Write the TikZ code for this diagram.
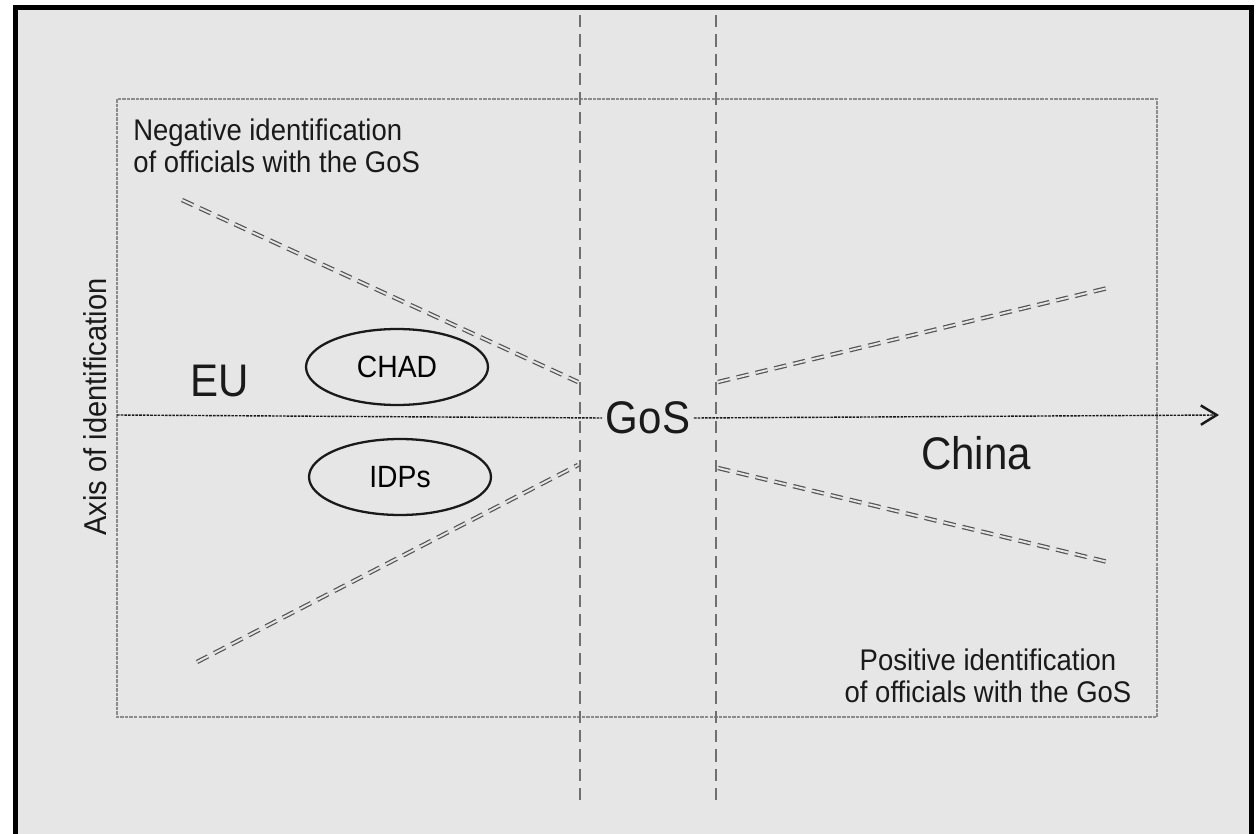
\documentclass[tikz,border=0pt]{standalone}
\usepackage{fontspec}
\setmainfont{Liberation Sans}
\newfontfamily\narrowsans[FakeStretch=0.92]{Liberation Sans}
\usetikzlibrary{arrows.meta,shapes.geometric}
\definecolor{paper}{HTML}{E6E6E6}
\definecolor{ink}{HTML}{1A1A1A}
\definecolor{muted}{HTML}{8C8C8C}
\tikzset{
  frameline/.style={draw=black, line width=2.8pt},
  boxline/.style={draw=muted, line width=0.6pt, dash pattern=on 2pt off 0.6pt},
  splitline/.style={draw=muted!80!black, line width=0.7pt, dash pattern=on 7pt off 4pt},
  axisline/.style={draw=ink, line width=0.8pt, dash pattern=on 1.5pt off 0.6pt},
  trend/.style={draw=muted!60!black, double=paper, double distance=1.1pt, line width=0.7pt, dash pattern=on 7pt off 4pt},
  group/.style={ellipse, draw=ink, line width=1.3pt, minimum width=3.64cm, minimum height=1.52cm, font=\narrowsans\fontsize{17.5}{19}\selectfont},
  biglab/.style={text=ink, font=\narrowsans\fontsize{26}{30}\selectfont},
  lab/.style={text=ink, font=\narrowsans\fontsize{17}{18.5}\selectfont, align=center},
}

\begin{document}
\begin{tikzpicture}[x=0.02cm, y=-0.02cm]
  \useasboundingbox (0,0) rectangle (1257,834);
  \fill[white] (0,0) rectangle (1257,834);
  \clip (0,0) rectangle (1257,834);
  \draw[frameline, fill=paper] (15.5,7.5) rectangle (1251.5,870);
  % inner frame
  \draw[boxline] (117,99) rectangle (1157,717);
  % the two borders of the GoS band
  \coordinate (ltop) at (580,15);
  \coordinate (lbot) at (580,805);
  \coordinate (rtop) at (716,15);
  \coordinate (rbot) at (716,805);
  \draw[splitline] (ltop) -- (lbot);
  \draw[splitline] (rtop) -- (rbot);
  % labels
  \node[biglab] (eu) at (220,381) {EU};
  \node[biglab, fill=paper, inner sep=2pt] (gos) at (648,418) {GoS};
  \node[biglab] (china) at (976,453) {China};
  \node[group] (chad) at (397,367) {CHAD};
  \node[group] (idps) at (400,477) {IDPs};
  \node[lab, align=left, anchor=west, inner sep=0pt] (neg) at (133,146) {Negative identification\\of officials with the GoS};
  \node[lab] (pos) at (988,676) {Positive identification\\of officials with the GoS};
  \node[lab, font=\narrowsans\fontsize{18}{20}\selectfont, rotate=90] (axis) at (95,407) {Axis of identification};
  % horizontal axis
  \coordinate (astart) at (117,415);
  \coordinate (aend) at (1219,415);
  \draw[axisline] (astart) -- (gos.west);
  \draw[axisline, -{Straight Barb[length=9pt,width=11pt,line width=1.4pt]}] (gos.east) -- (aend);
  % fan lines
  \coordinate (nw) at (182,200);
  \coordinate (nwend) at (578,382);
  \coordinate (sw) at (197,662);
  \coordinate (swend) at (578,465);
  \coordinate (ne) at (718,382);
  \coordinate (neend) at (1112,287);
  \coordinate (se) at (718,468);
  \coordinate (seend) at (1112,563);
  \draw[trend] (nw) -- (nwend);
  \draw[trend] (sw) -- (swend);
  \draw[trend] (ne) -- (neend);
  \draw[trend] (se) -- (seend);
\end{tikzpicture}
\end{document}
